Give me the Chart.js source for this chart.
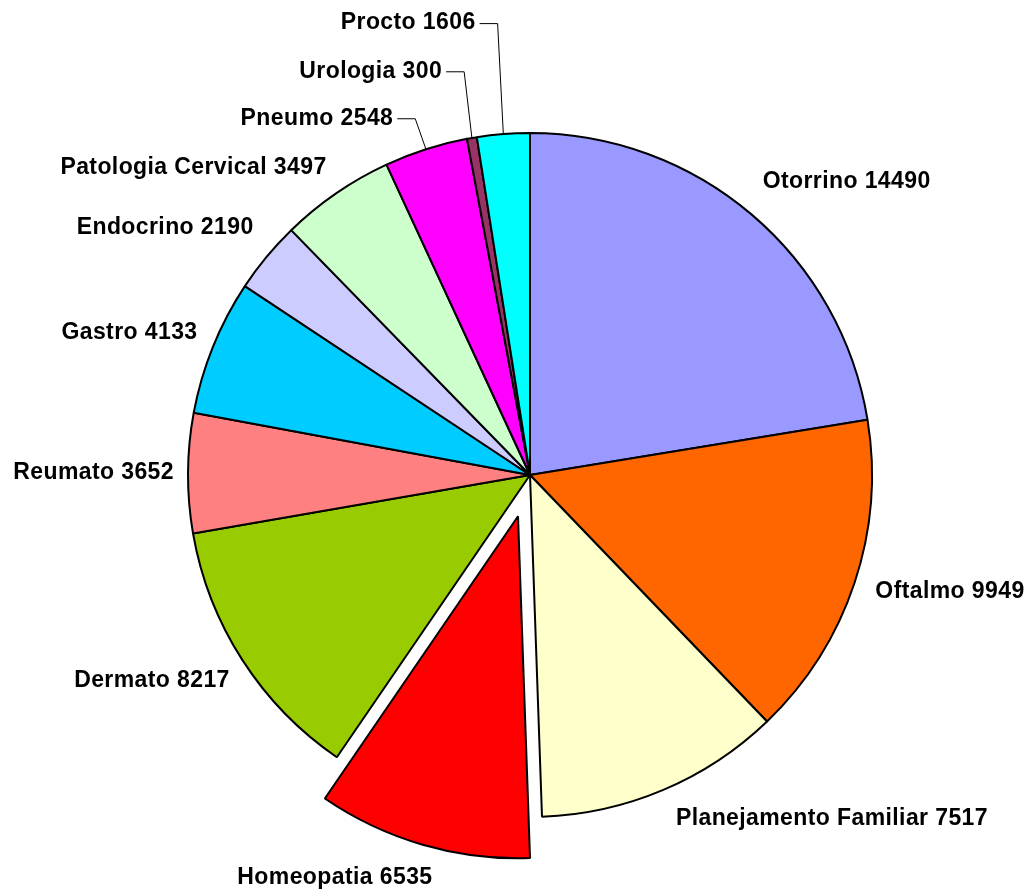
<!DOCTYPE html>
<html>
<head>
<meta charset="utf-8">
<script src="https://cdn.jsdelivr.net/npm/chart.js@4.4.1/dist/chart.umd.min.js"></script>
<style>
  html, body { margin: 0; padding: 0; background: #fff; }
  canvas { display: block; }
</style>
</head>
<body>
<canvas id="grafico" width="1028" height="893"></canvas>
<script>
// dados
const especialidades = ["Otorrino", "Oftalmo", "Planejamento Familiar", "Homeopatia", "Dermato", "Reumato", "Gastro", "Endocrino", "Patologia Cervical", "Pneumo", "Urologia", "Procto"];
const atendimentos = [14490, 9949, 7517, 6535, 8217, 3652, 4133, 2190, 3497, 2548, 300, 1606];
const cores = ["#9999FF", "#FF6600", "#FFFFCC", "#FF0000", "#99CC00", "#FF8080", "#00CCFF", "#CCCCFF", "#CCFFCC", "#FF00FF", "#993366", "#00FFFF"];

// estilo: fatia destacada, ajuste dos rótulos e linhas de chamada
const destaque = [0, 0, 0, 43, 0, 0, 0, 0, 0, 0, 0, 0];
const ajusteRotulo = [[-3, -3], [0, -4], [4, -5], [16, -1], [6, 0], [8, 0], [5, 0], [4, -4], [3, 5], [-26, 3], [-26, -32], [-26, -76]];
const linhaChamada = [false, false, false, false, false, false, false, false, false, true, true, true];

// desloca a fatia destacada
const pluginDestaque = {
  id: "destaque",
  afterDatasetsUpdate(chart) {
    const meta = chart.getDatasetMeta(0);
    meta.data.forEach((arc, i) => {
      const d = destaque[i];
      if (!d) return;
      const meio = (arc.startAngle + arc.endAngle) / 2;
      arc.x += Math.cos(meio) * d;
      arc.y += Math.sin(meio) * d;
    });
  },
};

// rótulos "Nome valor" fora da pizza
const pluginRotulos = {
  id: "rotulos",
  afterDatasetsDraw(chart) {
    const ctx = chart.ctx;
    const meta = chart.getDatasetMeta(0);
    ctx.save();
    ctx.font = "bold 23px 'Liberation Sans', Arial, sans-serif";
    if ("letterSpacing" in ctx) ctx.letterSpacing = "0.4px";
    ctx.fillStyle = "#000";
    ctx.strokeStyle = "#000";
    ctx.lineWidth = 1;
    ctx.textBaseline = "middle";
    meta.data.forEach((arc, i) => {
      const meio = (arc.startAngle + arc.endAngle) / 2;
      const cx = Math.cos(meio);
      const cy = Math.sin(meio);
      const r = arc.outerRadius;
      let x = arc.x + cx * (r + 22);
      let y = arc.y + cy * (r + 22) + Math.max(-1, Math.min(1, cy * 1.3)) * 13;
      let alinh = "center";
      if (cx > 0.05) alinh = "left";
      else if (cx < -0.05) alinh = "right";
      x += ajusteRotulo[i][0];
      y += ajusteRotulo[i][1];
      ctx.textAlign = alinh;
      ctx.fillText(especialidades[i] + " " + atendimentos[i], x, y);
      if (linhaChamada[i]) {
        ctx.beginPath();
        ctx.moveTo(x + 4, y + 0.5);
        ctx.lineTo(x + 22, y + 0.5);
        ctx.lineTo(arc.x + cx * r, arc.y + cy * r);
        ctx.stroke();
      }
    });
    ctx.restore();
  },
};

const contexto = document.getElementById("grafico").getContext("2d");
const grafico = new Chart(contexto, {
  type: "pie",
  data: {
    labels: especialidades,
    datasets: [
      {
        data: atendimentos,
        backgroundColor: cores,
        borderColor: "#000",
        borderWidth: 2,
        radius: 342,
      },
    ],
  },
  options: {
    responsive: false,
    animation: false,
    events: [],
    layout: { padding: { left: 32, top: 57, right: 0, bottom: 0 } },
    plugins: {
      legend: { display: false },
      tooltip: { enabled: false },
    },
  },
  plugins: [pluginDestaque, pluginRotulos],
});
</script>
</body>
</html>
